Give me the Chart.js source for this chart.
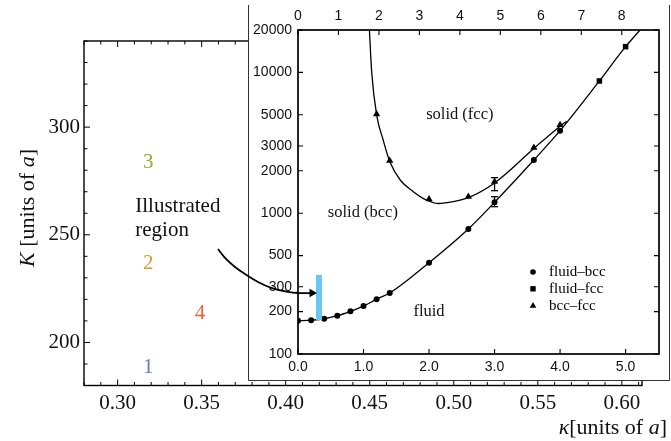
<!DOCTYPE html>
<html><head><meta charset="utf-8">
<script src="https://cdn.jsdelivr.net/npm/chart.js@4.4.0/dist/chart.umd.min.js"></script>
<style>
html,body{margin:0;padding:0;background:#fff;}
#wrap{position:relative;width:671px;height:441px;overflow:hidden;background:#fff;}
#bg{position:absolute;left:0;top:0;}
#inset{position:absolute;left:200px;top:0;}
</style></head><body>
<div id="wrap"><canvas id="bg" width="671" height="441"></canvas><canvas id="inset" width="471" height="441"></canvas></div>
<script>
// ---------- background chart data ----------
const bgKappaMin = 0.28, bgKappaMax = 0.612, bgKMin = 180, bgKMax = 340;
const bgXTicks = [0.30, 0.35, 0.40, 0.45, 0.50, 0.55, 0.60];
const bgYTicks = [200, 250, 300];
const bgLabels = ['1', '2', '3', '4'];
const bgLabelKappa = [0.3183, 0.3183, 0.3183, 0.349];
const bgLabelK = [188.5, 236.6, 283.8, 213.3];
const bgLabelColors = ['#5E81B5', '#E19C24', '#8FB032', '#EB6235'];
const noteLines = ['Illustrated', 'region'];
const noteKappa = [0.3105, 0.3105];
const noteK = [260.7, 249.3];

// ---------- inset chart data ----------
const insetXMin = 0, insetXMax = 5.51, insetTopMax = 8.92, insetYMin = 100, insetYMax = 20000;
const insetXTicks = [0, 1, 2, 3, 4, 5];
const insetTopTicks = [0, 1, 2, 3, 4, 5, 6, 7, 8];
const insetYTicks = [100, 200, 300, 500, 1000, 2000, 3000, 5000, 10000, 20000];

const fluidBccX = [0, 0.2, 0.4, 0.6, 0.8, 1.0, 1.2, 1.4, 2.0, 2.6, 3.0, 3.6, 4.0];
const fluidBccY = [172, 174, 178, 187, 201, 219, 245, 271, 445, 773, 1195, 2387, 3855];
const fluidFccX = [4.6, 5.0];
const fluidFccY = [8690, 15230];
const bccFccX = [1.2, 1.4, 2.0, 2.6, 3.0, 3.6, 4.0];
const bccFccY = [5050, 2360, 1256, 1310, 1674, 2920, 4230];

const fluidCurveX = [0, 0.2, 0.4, 0.6, 0.8, 1.0, 1.2, 1.4, 2.0, 2.6, 3.0, 3.6, 4.0, 4.6, 5.0, 5.22];
const fluidCurveY = [172, 174, 178, 187, 201, 219, 245, 271, 445, 773, 1195, 2387, 3855, 8690, 15230, 20000];
const bccCurveX = [1.09, 1.125, 1.2, 1.3, 1.4, 1.56, 1.76, 1.96, 2.14, 2.37, 2.6, 3.0, 3.6, 4.0, 4.1];
const bccCurveY = [20000, 10000, 5000, 3311, 2330, 1721, 1422, 1241, 1172, 1207, 1290, 1640, 2880, 4150, 4500];

const errX = [3.0, 3.0];
const errLow = [1445, 1112];
const errHigh = [1788, 1310];

const regionX = [0.32, 0.32];
const regionY = [174, 364];

const arrowX = [0.214, 0.031, -0.153, -0.397, -0.611, -0.809, -0.962, -1.099, -1.221];
const arrowY = [271, 271, 276, 294, 325, 370, 415, 473, 557];

const phaseNames = ['solid (fcc)', 'solid (bcc)', 'fluid'];
const phaseX = [2.47, 0.99, 2.0];
const phaseY = [4980, 1003, 200];

const legendNames = ['fluid\u2013bcc', 'fluid\u2013fcc', 'bcc\u2013fcc'];

const SERIF = '"Liberation Serif", "Times New Roman", serif';
const SANS = '"Liberation Sans", Arial, sans-serif';

// ---------- background chart ----------
const bgPlugin = {
  id: 'bgDecor',
  afterDraw(chart) {
    const {ctx, chartArea: a, scales: {x, y}} = chart;
    ctx.save();
    ctx.strokeStyle = '#000';
    ctx.lineWidth = 1.4;
    ctx.strokeRect(a.left, a.top, a.right - a.left, a.bottom - a.top);
    ctx.lineWidth = 1;
    ctx.beginPath();
    for (let i = 28; i <= 61; i++) {
      const px = x.getPixelForValue(i / 100);
      const L = i % 5 === 0 ? 6 : 3.5;
      ctx.moveTo(px, a.bottom); ctx.lineTo(px, a.bottom - L);
      ctx.moveTo(px, a.top); ctx.lineTo(px, a.top + L);
    }
    for (let k = 180; k <= 340; k += 10) {
      const py = y.getPixelForValue(k);
      const L = k % 50 === 0 ? 6 : 3.5;
      ctx.moveTo(a.left, py); ctx.lineTo(a.left + L, py);
      ctx.moveTo(a.right, py); ctx.lineTo(a.right - L, py);
    }
    ctx.stroke();
    // numbered labels
    ctx.font = '21px ' + SERIF;
    ctx.textAlign = 'center';
    ctx.textBaseline = 'middle';
    bgLabels.forEach((t, i) => {
      ctx.fillStyle = bgLabelColors[i];
      ctx.fillText(t, x.getPixelForValue(bgLabelKappa[i]), y.getPixelForValue(bgLabelK[i]));
    });
    // note
    ctx.fillStyle = '#111';
    ctx.textAlign = 'left';
    ctx.textBaseline = 'alphabetic';
    noteLines.forEach((t, i) => ctx.fillText(t, x.getPixelForValue(noteKappa[i]), y.getPixelForValue(noteK[i])));
    // axis titles with mixed italics
    const parts = (sym) => [[sym, 'italic 22px ' + SERIF], ['[units of ', '22px ' + SERIF], ['a', 'italic 22px ' + SERIF], [']', '22px ' + SERIF]];
    function drawParts(ps, startX, baseY) {
      let cx = startX;
      ps.forEach(([t, f]) => { ctx.font = f; ctx.fillText(t, cx, baseY); cx += ctx.measureText(t).width; });
    }
    function widthParts(ps) {
      let w = 0; ps.forEach(([t, f]) => { ctx.font = f; w += ctx.measureText(t).width; }); return w;
    }
    ctx.fillStyle = '#111';
    ctx.textBaseline = 'middle';
    const xp = parts('\u03BA');
    const wx = widthParts(xp);
    drawParts(xp, 667 - wx, 428);
    const yp = parts('K ');
    const wy = widthParts(yp);
    ctx.translate(28, 208);
    ctx.rotate(-Math.PI / 2);
    drawParts(yp, -wy / 2, 0);
    ctx.restore();
  }
};

new Chart(document.getElementById('bg'), {
  type: 'scatter',
  data: {datasets: [{data: bgLabels.map((t, i) => ({x: bgLabelKappa[i], y: bgLabelK[i]})), pointRadius: 0}]},
  options: {
    responsive: false, animation: false, devicePixelRatio: 1,
    layout: {padding: {top: 41, right: 29, left: 0, bottom: 0}},
    plugins: {legend: {display: false}, tooltip: {enabled: false}},
    scales: {
      x: {
        type: 'linear', min: bgKappaMin, max: bgKappaMax,
        afterFit(s) { s.height = 55.5; },
        afterBuildTicks(s) { s.ticks = bgXTicks.map(v => ({value: v})); },
        grid: {display: false, drawTicks: false}, border: {display: false},
        ticks: {padding: 5, color: '#111', autoSkip: false, maxRotation: 0,
          font: {family: SERIF, size: 21}, callback: v => v.toFixed(2)}
      },
      y: {
        type: 'linear', min: bgKMin, max: bgKMax,
        afterFit(s) { s.width = 84; },
        afterBuildTicks(s) { s.ticks = bgYTicks.map(v => ({value: v})); },
        grid: {display: false, drawTicks: false}, border: {display: false},
        ticks: {padding: 4, color: '#111', autoSkip: false,
          font: {family: SERIF, size: 21}, callback: v => String(v)}
      }
    }
  },
  plugins: [bgPlugin]
});

// ---------- inset chart ----------
const insetPlugin = {
  id: 'insetDecor',
  beforeDraw(chart) {
    const ctx = chart.ctx;
    ctx.save();
    ctx.fillStyle = '#fff';
    ctx.fillRect(48, 0, 421, 380);
    ctx.strokeStyle = '#333';
    ctx.lineWidth = 1;
    ctx.beginPath();
    ctx.moveTo(48.5, 5); ctx.lineTo(48.5, 380.5); ctx.lineTo(469.5, 380.5); ctx.lineTo(469.5, 5);
    ctx.stroke();
    ctx.restore();
  },
  beforeDatasetsDraw(chart) {
    const {ctx, chartArea: a, scales} = chart;
    ctx.save();
    ctx.strokeStyle = '#000';
    ctx.lineWidth = 1.7;
    ctx.strokeRect(a.left, a.top, a.right - a.left, a.bottom - a.top);
    ctx.lineWidth = 1.1;
    ctx.beginPath();
    insetYTicks.forEach(v => {
      const py = scales.y.getPixelForValue(v);
      ctx.moveTo(a.left, py); ctx.lineTo(a.left + 5, py);
      ctx.moveTo(a.right, py); ctx.lineTo(a.right - 5, py);
    });
    insetXTicks.forEach(v => {
      const px = scales.x.getPixelForValue(v);
      ctx.moveTo(px, a.bottom); ctx.lineTo(px, a.bottom - 5);
    });
    insetTopTicks.forEach(v => {
      const px = scales.x2.getPixelForValue(v);
      ctx.moveTo(px, a.top); ctx.lineTo(px, a.top + 5);
    });
    ctx.stroke();
    ctx.restore();
  },
  afterDatasetsDraw(chart) {
    const {ctx, chartArea: a, scales} = chart;
    ctx.save();
    ctx.fillStyle = '#111';
    ctx.font = '16.5px ' + SERIF;
    ctx.textAlign = 'center';
    ctx.textBaseline = 'middle';
    phaseNames.forEach((t, i) => ctx.fillText(t, scales.x.getPixelForValue(phaseX[i]), scales.y.getPixelForValue(phaseY[i])));
    // legend
    const lx = a.left + 235, ly = a.top + 242, dy = 16.8;
    ctx.fillStyle = '#000';
    ctx.beginPath(); ctx.arc(lx, ly, 2.8, 0, 2 * Math.PI); ctx.fill();
    ctx.fillRect(lx - 2.7, ly + dy - 2.7, 5.4, 5.4);
    ctx.beginPath();
    ctx.moveTo(lx, ly + 2 * dy - 3.6); ctx.lineTo(lx + 3.3, ly + 2 * dy + 2.2); ctx.lineTo(lx - 3.3, ly + 2 * dy + 2.2); ctx.closePath(); ctx.fill();
    ctx.font = '15px ' + SERIF;
    ctx.textAlign = 'left';
    legendNames.forEach((t, i) => ctx.fillText(t, lx + 16, ly + i * dy));
    ctx.restore();
  }
};

const pts = (xs, ys) => xs.map((v, i) => ({x: v, y: ys[i]}));
const lineDs = (data, extra) => Object.assign({data, showLine: true, pointRadius: 0, borderColor: '#000', borderWidth: 1.3, fill: false}, extra);

new Chart(document.getElementById('inset'), {
  type: 'scatter',
  data: {datasets: [
    lineDs(pts(fluidCurveX, fluidCurveY), {cubicInterpolationMode: 'monotone', order: 5}),
    lineDs(pts(bccCurveX, bccCurveY), {cubicInterpolationMode: 'monotone', order: 5}),
    {data: pts(fluidBccX, fluidBccY), pointStyle: 'circle', pointRadius: 3, pointBackgroundColor: '#000', pointBorderColor: '#000', pointBorderWidth: 0, order: 2},
    {data: pts(fluidFccX, fluidFccY), pointStyle: 'rect', pointRadius: 3.9, pointBackgroundColor: '#000', pointBorderColor: '#000', pointBorderWidth: 0, order: 2},
    {data: pts(bccFccX, bccFccY), pointStyle: 'triangle', pointRadius: 4.2, pointBackgroundColor: '#000', pointBorderColor: '#000', pointBorderWidth: 0, order: 2},
    lineDs([{x: errX[0], y: errLow[0]}, {x: errX[0], y: errHigh[0]}], {pointStyle: 'line', pointRadius: 3.5, pointBorderColor: '#000', pointBorderWidth: 1.3, borderWidth: 1.3, order: 3}),
    lineDs([{x: errX[1], y: errLow[1]}, {x: errX[1], y: errHigh[1]}], {pointStyle: 'line', pointRadius: 3.5, pointBorderColor: '#000', pointBorderWidth: 1.3, borderWidth: 1.3, order: 3}),
    lineDs(pts(regionX, regionY), {borderColor: '#66C8F2', borderWidth: 6, borderCapStyle: 'butt', order: 1}),
    lineDs(pts(arrowX, arrowY), {borderWidth: 1.8, tension: 0.4, clip: false, order: 0,
      pointRadius: arrowX.map((v, i) => i === 0 ? 5 : 0), pointStyle: 'triangle', rotation: 90,
      pointBackgroundColor: '#000', pointBorderColor: '#000', pointBorderWidth: 0})
  ]},
  options: {
    responsive: false, animation: false, devicePixelRatio: 1,
    layout: {padding: {top: 0, right: 12, left: 0, bottom: 0}},
    plugins: {legend: {display: false}, tooltip: {enabled: false}},
    scales: {
      x: {
        type: 'linear', position: 'bottom', min: insetXMin, max: insetXMax,
        afterFit(s) { s.height = 87; },
        afterBuildTicks(s) { s.ticks = insetXTicks.map(v => ({value: v})); },
        grid: {display: false, drawTicks: false}, border: {display: false},
        ticks: {padding: 5, color: '#111', autoSkip: false, maxRotation: 0,
          font: {family: SANS, size: 14}, callback: v => v.toFixed(1)}
      },
      x2: {
        type: 'linear', position: 'top', axis: 'x', min: 0, max: insetTopMax,
        afterFit(s) { s.height = 30; },
        afterBuildTicks(s) { s.ticks = insetTopTicks.map(v => ({value: v})); },
        grid: {display: false, drawTicks: false}, border: {display: false},
        ticks: {padding: 5, color: '#111', autoSkip: false, maxRotation: 0,
          font: {family: SANS, size: 14}, callback: v => String(v)}
      },
      y: {
        type: 'logarithmic', min: insetYMin, max: insetYMax,
        afterFit(s) { s.width = 98; },
        afterBuildTicks(s) { s.ticks = insetYTicks.map(v => ({value: v})); },
        grid: {display: false, drawTicks: false}, border: {display: false},
        ticks: {padding: 6, color: '#111', autoSkip: false,
          font: {family: SANS, size: 14}, callback: v => String(Math.round(v))}
      }
    }
  },
  plugins: [insetPlugin]
});
</script>
</body></html>
